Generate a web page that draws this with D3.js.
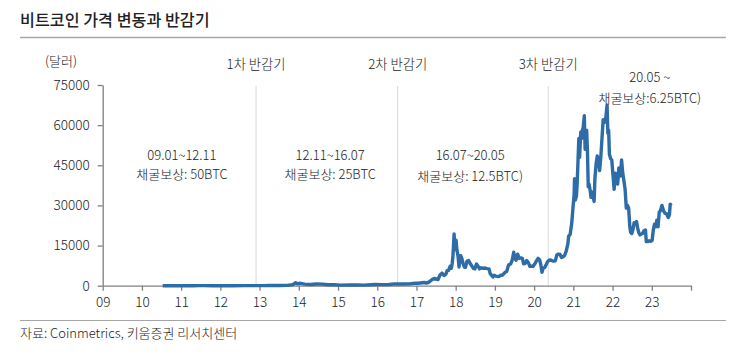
<!DOCTYPE html>
<html><head><meta charset="utf-8">
<script src="https://cdn.jsdelivr.net/npm/d3@7"></script>
<style>
html,body{margin:0;padding:0;background:#fff;}
svg{display:block;font-family:"Noto Sans CJK KR","Noto Sans",sans-serif;}
</style></head>
<body><svg id="c" width="733" height="356"></svg>
<script>
const title = "비트코인 가격 변동과 반감기";
const unitLabel = "(달러)";
const source = "자료: Coinmetrics, 키움증권 리서치센터";
const yTicks = [0, 15000, 30000, 45000, 60000, 75000];
const xTicks = [2009,2010,2011,2012,2013,2014,2015,2016,2017,2018,2019,2020,2021,2022,2023,2024];
const xTickLabels = ["09","10","11","12","13","14","15","16","17","18","19","20","21","22","23",""];
const halvingDates = [2012.91, 2016.52, 2020.36];
const halvingLabels = ["1차 반감기","2차 반감기","3차 반감기"];
const periodLines1 = ["09.01~12.11","12.11~16.07","16.07~20.05","20.05 ~"];
const periodLines2 = ["채굴보상: 50BTC","채굴보상: 25BTC","채굴보상: 12.5BTC)","채굴보상:6.25BTC)"];
const periodCenters = [2011.02, 2014.8, 2018.37, 2022.95];
const periodValues = [[47000, 40000],[47000, 40000],[47000, 39300],[76200, 68300]];

const dates = [2010.53,2010.75,2010.92,2011.1,2011.3,2011.45,2011.6,2011.8,2012.0,2012.3,2012.6,2012.9,2013.1,2013.25,2013.3,2013.5,2013.7,2013.85,2013.92,2013.96,
2014.05,2014.15,2014.3,2014.45,2014.6,2014.75,2014.9,2015.05,2015.3,2015.5,2015.65,2015.85,2015.95,2016.1,2016.3,2016.45,2016.55,2016.7,2016.85,2016.98,
2017.05,2017.1,2017.2,2017.25,2017.3,2017.35,2017.4,2017.45,2017.5,2017.55,2017.6,2017.65,2017.7,2017.75,2017.78,2017.82,2017.86,2017.89,2017.91,2017.93,2017.95,2017.96,2017.975,2017.99,
2018.01,2018.03,2018.06,2018.085,2018.1,2018.13,2018.16,2018.19,2018.22,2018.25,2018.29,2018.33,2018.37,2018.41,2018.45,2018.49,2018.53,2018.57,2018.61,2018.65,2018.7,2018.75,2018.8,2018.85,2018.88,2018.92,2018.95,2018.98,
2019.02,2019.1,2019.15,2019.2,2019.26,2019.3,2019.35,2019.4,2019.44,2019.48,2019.5,2019.54,2019.58,2019.62,2019.66,2019.7,2019.73,2019.77,2019.81,2019.85,2019.89,2019.93,2019.97,
2020.02,2020.06,2020.1,2020.14,2020.17,2020.2,2020.23,2020.27,2020.3,2020.34,2020.38,2020.42,2020.46,2020.5,2020.54,2020.58,2020.62,2020.66,2020.7,2020.74,2020.78,2020.82,2020.86,2020.88,2020.92,2020.96,2020.99,
2021.02,2021.03,2021.05,2021.08,2021.1,2021.12,2021.14,2021.16,2021.19,2021.21,2021.23,2021.25,2021.28,2021.3,2021.32,2021.34,2021.36,2021.38,2021.4,2021.43,2021.45,2021.48,2021.5,2021.53,2021.55,2021.58,2021.61,2021.64,2021.67,2021.7,2021.73,2021.76,2021.79,2021.83,2021.86,2021.88,2021.9,2021.92,2021.95,2021.98,
2022.01,2022.04,2022.07,2022.1,2022.13,2022.16,2022.2,2022.23,2022.26,2022.29,2022.32,2022.35,2022.38,2022.41,2022.44,2022.46,2022.49,2022.52,2022.55,2022.58,2022.61,2022.64,2022.67,2022.7,2022.73,2022.76,2022.8,2022.84,2022.86,2022.9,2022.94,2022.98,
2023.01,2023.04,2023.07,2023.1,2023.13,2023.16,2023.19,2023.22,2023.26,2023.3,2023.34,2023.38,2023.42,2023.45,2023.47,2023.5];
const prices = [0.06,0.1,0.25,1,4,18,13,3,5,5,10,12,20,100,120,90,130,400,1100,750,
900,600,450,620,580,380,370,220,240,260,230,380,430,400,450,700,650,610,730,960,
900,1000,1200,1000,1200,1700,2300,2700,2500,2300,4000,4700,3800,4300,5600,5700,7300,6500,8200,11000,16500,19300,14000,13500,
17000,13500,11000,7000,8500,11200,10000,8300,7000,6900,9200,9400,8300,7400,6500,6300,8100,7300,6300,6700,6500,6600,6400,6300,4500,3800,3300,3900,
3600,3400,3900,4000,5000,5300,7800,8100,9500,12500,10800,9500,11800,10200,10400,10200,8200,8300,9400,8700,7200,7300,7200,
8200,9300,10200,9700,7900,5000,6500,6800,7600,8900,9500,9600,9300,9200,9300,11500,11800,11700,10500,10800,11400,13000,15600,18500,19200,23500,29000,
34000,40000,32000,33500,39000,47000,55000,48000,57500,55000,58000,59000,63500,51000,57000,58000,50000,37000,38000,35500,33000,35000,33500,31500,40000,45500,48500,47000,43000,48000,55000,62000,61000,63000,67500,57000,58000,49000,47500,47000,
41500,36000,42000,38500,38000,44000,41000,47000,42000,39000,36000,29000,30000,29000,22000,20000,19500,21000,23500,23000,24000,21500,19800,19000,19300,19500,20500,20800,16500,16500,16800,16600,
17000,21000,23000,22000,24500,22000,27500,28000,30000,28000,27000,26800,25500,26500,30500,30000];

const svg = d3.select("#c");
const x = d3.scaleLinear().domain([2009, 2024]).range([102.7, 691]);
const y = d3.scaleLinear().domain([0, 75000]).range([285.7, 85]);
const txt = "#222";
const fs = 13;
const fw = 300;

// title
svg.append("text").attr("x", 20).attr("y", 26).attr("font-size", 16.2).attr("font-weight", 500)
  .attr("fill", "#222").text(title);
svg.append("line").attr("x1", 20).attr("x2", 726).attr("y1", 37.5).attr("y2", 37.5)
  .attr("stroke", "#a6a6a6").attr("stroke-width", 1.6);

// halving lines
svg.selectAll(".hl").data(halvingDates).join("line").attr("class","hl")
  .attr("x1", d => x(d)).attr("x2", d => x(d)).attr("y1", 86).attr("y2", y(0))
  .attr("stroke", "#d9d9d9").attr("stroke-width", 1);
svg.selectAll(".hlt").data(halvingDates).join("text").attr("class","hlt")
  .attr("x", d => x(d)).attr("y", 69).attr("text-anchor","middle").attr("font-size", 13.3)
  .attr("font-weight", fw).attr("fill", txt).text((d,i) => halvingLabels[i]);

// unit
svg.append("text").attr("x", 45).attr("y", 66).attr("font-size", fs).attr("font-weight", fw)
  .attr("fill", txt).text(unitLabel);

// axes
const yAxis = d3.axisLeft(y).tickValues(yTicks).tickSize(5).tickSizeOuter(0).tickPadding(8)
  .tickFormat(d3.format("d"));
const gy = svg.append("g").attr("transform", `translate(${x(2009)},0)`).call(yAxis);
const xAxis = d3.axisBottom(x).tickValues(xTicks).tickSize(5).tickSizeOuter(0).tickPadding(7)
  .tickFormat((d,i) => xTickLabels[i]);
const gx = svg.append("g").attr("transform", `translate(0,${y(0)})`).call(xAxis);
[gx, gy].forEach(g => {
  g.select(".domain").attr("stroke", "#808080").attr("stroke-width", 1.3);
  g.selectAll(".tick line").attr("stroke", "#808080").attr("stroke-width", 1.3);
  g.selectAll(".tick text").attr("fill", txt).attr("font-size", 13.5).attr("font-weight", fw)
    .attr("font-family", '"Noto Sans CJK KR","Noto Sans",sans-serif');
});

// price line
const line = d3.line().x((d,i) => x(dates[i])).y(d => y(d));
svg.append("path").datum(prices).attr("d", line).attr("fill","none")
  .attr("stroke", "#2e6ca8").attr("stroke-width", 3.4).attr("stroke-linejoin","round");

// period annotations
periodCenters.forEach((c,i) => {
  svg.append("text").attr("x", x(c)).attr("y", y(periodValues[i][0])).attr("text-anchor","middle")
    .attr("font-size", fs).attr("font-weight", fw).attr("fill", txt).text(periodLines1[i]);
  svg.append("text").attr("x", x(c)).attr("y", y(periodValues[i][1])).attr("text-anchor","middle")
    .attr("font-size", fs).attr("font-weight", fw).attr("fill", txt).text(periodLines2[i]);
});

// source
svg.append("line").attr("x1", 20).attr("x2", 726).attr("y1", 320.5).attr("y2", 320.5)
  .attr("stroke", "#a6a6a6").attr("stroke-width", 1.2);
svg.append("text").attr("x", 20).attr("y", 338).attr("font-size", fs).attr("font-weight", fw)
  .attr("fill", txt).text(source);
</script></body></html>
